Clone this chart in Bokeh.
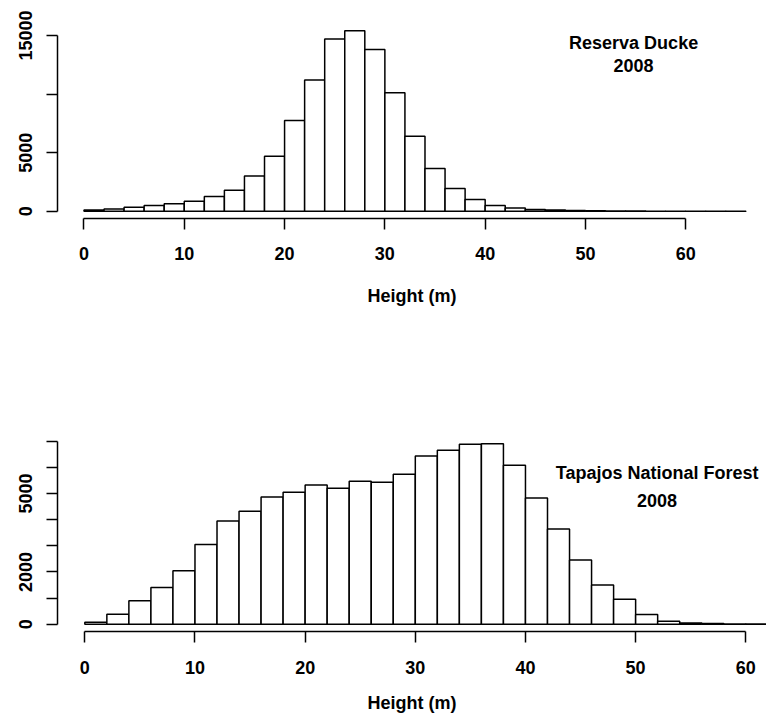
from bokeh.plotting import figure
from bokeh.layouts import column
from bokeh.models import FixedTicker, Range1d, Label
from bokeh.embed import file_html
from bokeh.resources import INLINE

# ---------------- data ----------------
bin_width = 2
ducke_counts = [100, 200, 350, 500, 650, 850, 1250, 1800, 3000, 4700, 7750,
                11200, 14700, 15400, 13800, 10100, 6400, 3650, 1950, 1000,
                500, 280, 150, 100, 60, 40, 25, 15, 10, 8, 5, 3, 2]
tapajos_counts = [80, 385, 900, 1410, 2050, 3050, 3950, 4320, 4860, 5050,
                  5320, 5200, 5470, 5430, 5730, 6430, 6650, 6880, 6900, 6075,
                  4830, 3640, 2460, 1500, 960, 370, 115, 50, 30, 15, 8]
x_ticks = [0, 10, 20, 30, 40, 50, 60]
ducke_y_ticks = [0, 5000, 10000, 15000]
ducke_y_labels = ["0", "5000", "", "15000"]
tapajos_y_ticks = [0, 1000, 2000, 3000, 4000, 5000, 6000, 7000]
tapajos_y_labels = ["0", "", "2000", "", "", "5000", "", ""]
x_label = "Height (m)"
ducke_title = ["Reserva Ducke", "2008"]
tapajos_title = ["Tapajos National Forest", "2008"]

FONT = "Liberation Sans"
FS = "18px"
STYLE = "bold"


def hist_panel(counts, y_ticks, y_labels, title, title_x, title_y, height,
               border_top, border_bottom, x_end, tick_standoff, label_standoff):
    n = len(counts)
    left = [i * bin_width for i in range(n)]
    right = [(i + 1) * bin_width for i in range(n)]
    xmax = right[-1]
    ymax = max(counts)
    p = figure(width=766, height=height, output_backend="svg",
               toolbar_location=None,
               x_range=Range1d(-0.04 * xmax, x_end),
               y_range=Range1d(-0.04 * ymax, 1.04 * ymax),
               min_border_left=57, min_border_right=0,
               min_border_top=border_top, min_border_bottom=border_bottom)
    p.outline_line_color = None
    p.grid.visible = False
    p.background_fill_color = "white"
    p.border_fill_color = "white"

    p.quad(left=left, right=right, bottom=0, top=counts,
           fill_color="white", line_color="black", line_width=1.5)

    for ax, ticks, bounds in ((p.xaxis[0], x_ticks, (0, 60)),
                              (p.yaxis[0], y_ticks, (0, y_ticks[-1]))):
        ax.ticker = FixedTicker(ticks=ticks)
        ax.bounds = bounds
        ax.axis_line_color = "black"
        ax.axis_line_width = 1.5
        ax.major_tick_line_color = "black"
        ax.major_tick_line_width = 1.5
        ax.major_tick_in = 0
        ax.major_tick_out = 11
        ax.minor_tick_line_color = None
        ax.major_label_text_font = FONT
        ax.major_label_text_font_size = FS
        ax.major_label_text_font_style = STYLE
        ax.major_label_text_color = "black"
        ax.major_label_standoff = tick_standoff

    p.yaxis[0].major_label_overrides = {t: l for t, l in zip(y_ticks, y_labels)}
    p.yaxis[0].major_label_orientation = "parallel"
    p.yaxis[0].major_label_standoff = 14

    p.xaxis[0].axis_label = x_label
    p.xaxis[0].axis_label_text_font = FONT
    p.xaxis[0].axis_label_text_font_size = FS
    p.xaxis[0].axis_label_text_font_style = STYLE
    p.xaxis[0].axis_label_text_color = "black"
    p.xaxis[0].axis_label_standoff = label_standoff

    for txt, yy in zip(title, title_y):
        p.add_layout(Label(x=title_x, y=yy, text=txt, text_align="center",
                           text_baseline="alphabetic", text_font=FONT,
                           text_font_size=FS, text_font_style=STYLE,
                           text_color="black"))
    return p


top = hist_panel(ducke_counts, ducke_y_ticks, ducke_y_labels, ducke_title,
                 54.8, [14340, 12440], height=335, border_top=23,
                 border_bottom=117, x_end=68.05,
                 tick_standoff=17, label_standoff=23)
bottom = hist_panel(tapajos_counts, tapajos_y_ticks, tapajos_y_labels,
                    tapajos_title, 51.95, [5790, 4740], height=392,
                    border_top=101, border_bottom=96, x_end=61.88,
                    tick_standoff=18, label_standoff=16)

layout = column(top, bottom, spacing=0)
open("out.html", "w").write(file_html(layout, INLINE))
